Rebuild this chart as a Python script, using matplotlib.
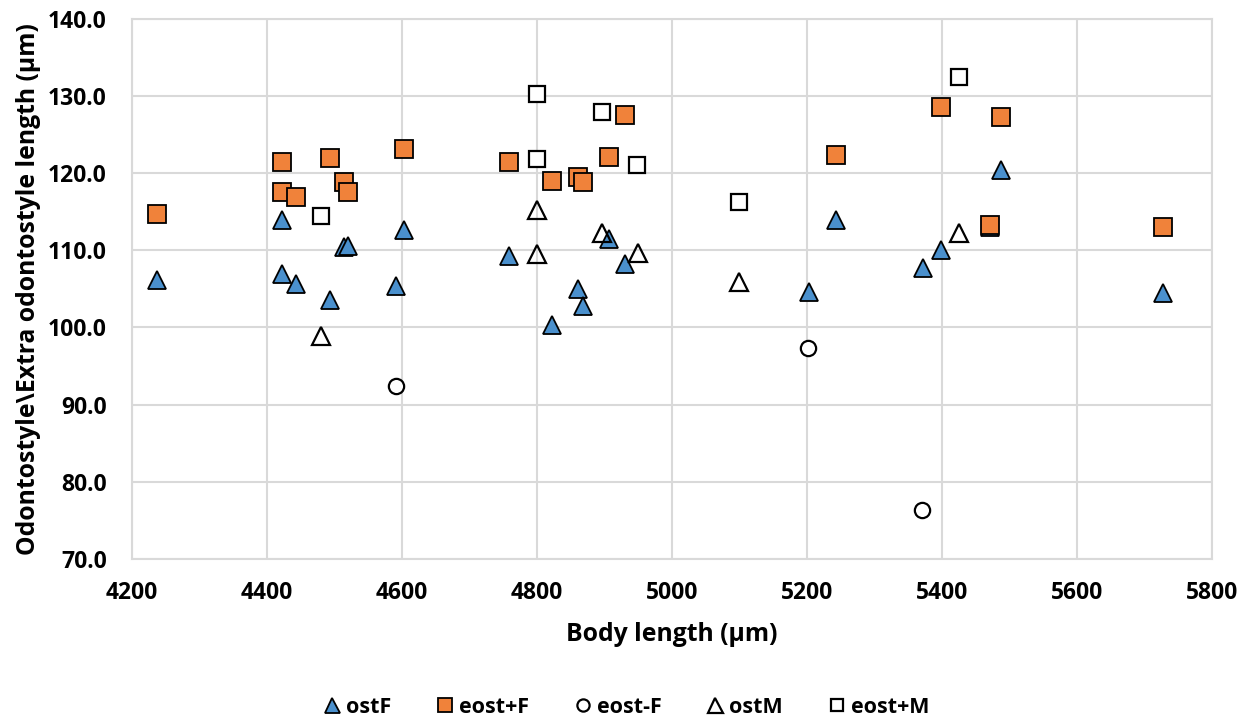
import matplotlib
matplotlib.use("Agg")
from matplotlib import pyplot as plt

plt.rcParams['font.family'] = ['Open Sans', 'DejaVu Sans']
plt.rcParams['font.weight'] = 'bold'

# ostF
ostF_x = [4238, 4423, 4423, 4443, 4493, 4515, 4521, 4604, 4592, 4759, 4907,
          4930, 4861, 4869, 4823, 5244, 5488, 5399, 5372, 5203, 5728, 5471]
ostF_y = [106.2, 113.9, 106.9, 105.6, 103.5, 110.4, 110.6, 112.6, 105.4, 109.3, 111.5,
          108.2, 105.0, 102.8, 100.3, 113.9, 120.4, 110.1, 107.7, 104.6, 104.5, 113.0]

# eost+F
eostpF_x = [4238, 4423, 4423, 4443, 4493, 4515, 4521, 4604, 4759, 4823,
            4861, 4869, 4907, 4930, 5244, 5399, 5471, 5488, 5728]
eostpF_y = [114.7, 121.4, 117.6, 116.9, 122.0, 118.9, 117.5, 123.1, 121.5, 119.0,
            119.5, 118.8, 122.1, 127.5, 122.4, 128.6, 113.3, 127.3, 113.0]

# eost-F
eostmF_x = [4592, 5202, 5371]
eostmF_y = [92.4, 97.4, 76.4]

# ostM
ostM_x = [4481, 4800, 4801, 4896, 4950, 5100, 5426]
ostM_y = [98.9, 115.2, 109.5, 112.2, 109.6, 105.9, 112.3]

# eost+M
eostpM_x = [4481, 4800, 4801, 4896, 4949, 5100, 5426]
eostpM_y = [114.4, 130.3, 121.8, 127.9, 121.0, 116.3, 132.4]

blue = '#4A90CD'
orange = '#F0823A'
grid = '#D9D9D9'

fig = plt.figure(figsize=(12.5, 7.23), dpi=100)
ax = fig.add_axes([0.1054, 0.2268, 0.864, 0.7472])

ax.plot(ostF_x, ostF_y, ls='none', marker='^', ms=13.5, mfc=blue, mec='black', mew=1.3,
        label='ostF', zorder=3)
ax.plot(eostpF_x, eostpF_y, ls='none', marker='s', ms=12.5, mfc=orange, mec='black', mew=1.3,
        label='eost+F', zorder=4)
ax.plot(eostmF_x, eostmF_y, ls='none', marker='o', ms=11, mfc='white', mec='black', mew=1.6,
        label='eost-F', zorder=3)
ax.plot(ostM_x, ostM_y, ls='none', marker='^', ms=13.5, mfc='none', mec='black', mew=1.6,
        label='ostM', zorder=3)
ax.plot(eostpM_x, eostpM_y, ls='none', marker='s', ms=11.5, mfc='white', mec='black', mew=1.6,
        label='eost+M', zorder=3)

ax.set_xlim(4200, 5800)
ax.set_ylim(70, 140)
ax.set_xticks(range(4200, 5801, 200))
ax.set_yticks(range(70, 141, 10))
ax.set_yticklabels(['%.1f' % v for v in range(70, 141, 10)])
ax.grid(True, color=grid, lw=1.5, zorder=0)
ax.set_axisbelow(True)
for s in ax.spines.values():
    s.set_color(grid)
    s.set_linewidth(1.5)
ax.tick_params(length=0, labelsize=16.5)
ax.tick_params(axis='x', pad=16)
ax.tick_params(axis='y', pad=18)
for lab in ax.get_xticklabels() + ax.get_yticklabels():
    lab.set_fontweight('bold')

ax.set_xlabel('Body length (µm)', fontsize=17.8, fontweight='bold', labelpad=12)
ax.set_ylabel('Odontostyle\\Extra odontostyle length (µm)', fontsize=17.8, fontweight='bold',
              labelpad=5)

fig.legend(loc='center', bbox_to_anchor=(0.5, 0.022), ncol=5, frameon=False,
           fontsize=15.5, markerscale=0.8, handletextpad=0.15, columnspacing=2.0,
           handlelength=1.0)

fig.savefig('out.png', dpi=100)
